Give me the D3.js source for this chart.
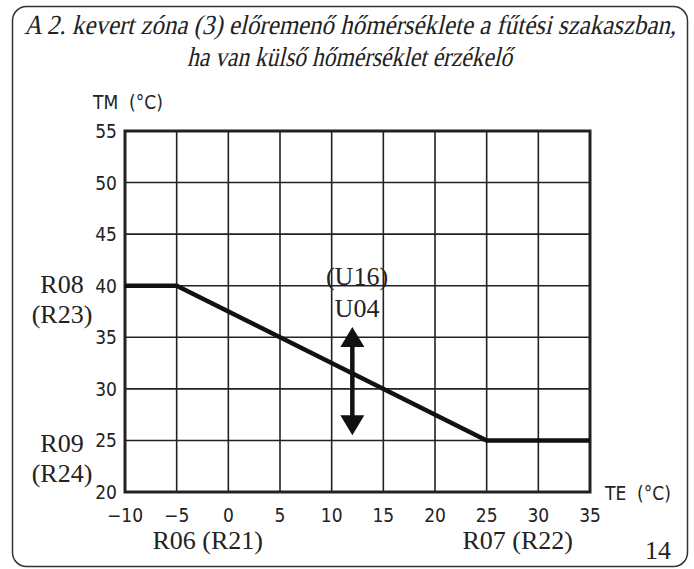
<!DOCTYPE html>
<html><head><meta charset="utf-8">
<script src="https://cdn.jsdelivr.net/npm/d3@7"></script>
<style>
html,body{margin:0;padding:0;background:#fff;}
svg{display:block;}
.tick{font-family:"DejaVu Sans Condensed","DejaVu Sans",sans-serif;font-size:19px;fill:#222;}
.ser{font-family:"Liberation Serif","DejaVu Serif",serif;font-size:26px;fill:#222;}
</style></head><body>
<script>
const titleLines = ["A 2. kevert zóna (3) előremenő hőmérséklete a fűtési szakaszban,", "ha van külső hőmérséklet érzékelő"];
const xTicks = [-10,-5,0,5,10,15,20,25,30,35];
const yTicks = [20,25,30,35,40,45,50,55];
const curveTE = [-10,-5,25,35];
const curveTM = [40,40,25,25];
const arrowTE = 12;
const arrowTM = [25.5,36];
const xAxisLabel = "TE (°C)";
const yAxisLabel = "TM (°C)";
const leftLabels = [{t:"R08",v:40,dy:7},{t:"(R23)",v:40,dy:37},{t:"R09",v:25,dy:12},{t:"(R24)",v:25,dy:42}];
const bottomLabels = [{t:"R06 (R21)",v:-2},{t:"R07 (R22)",v:28}];
const uLabels = ["(U16)","U04"];
const pageNo = "14";

const W=694,H=569;
const svg=d3.select("body").append("svg").attr("width",W).attr("height",H);
svg.append("rect").attr("x",12.5).attr("y",6.5).attr("width",675).attr("height",560).attr("rx",14)
  .attr("fill","none").attr("stroke","#333").attr("stroke-width",1.5);

const tl=[[24,676,34],[187,512,66]];
titleLines.forEach((s,i)=>{
  svg.append("text").attr("transform",`translate(${tl[i][0]},${tl[i][2]}) skewX(-13) scale(1,1.1)`)
    .attr("x",0).attr("y",0)
    .attr("font-family","'Liberation Serif', serif").attr("font-style","normal")
    .attr("font-size",25).attr("fill","#222")
    .attr("textLength",tl[i][1]-tl[i][0]).attr("lengthAdjust","spacingAndGlyphs").text(s);
});

const x=d3.scaleLinear().domain([-10,35]).range([125,590]);
const y=d3.scaleLinear().domain([20,55]).range([492,131]);

const g=svg.append("g");
g.selectAll(".vg").data(xTicks).join("line").attr("x1",d=>x(d)).attr("x2",d=>x(d))
  .attr("y1",y(20)).attr("y2",y(55)).attr("stroke","#222").attr("stroke-width",1.6);
g.selectAll(".hg").data(yTicks).join("line").attr("y1",d=>y(d)).attr("y2",d=>y(d))
  .attr("x1",x(-10)).attr("x2",x(35)).attr("stroke","#222").attr("stroke-width",1.6);
g.append("rect").attr("x",x(-10)).attr("y",y(55)).attr("width",x(35)-x(-10)).attr("height",y(20)-y(55))
  .attr("fill","none").attr("stroke","#222").attr("stroke-width",3);

svg.selectAll(".yt").data(yTicks).join("text").attr("class","tick").attr("text-anchor","end")
  .attr("x",117).attr("y",d=>y(d)+7).text(d=>d);
svg.selectAll(".xt").data(xTicks).join("text").attr("class","tick").attr("text-anchor","middle")
  .attr("x",d=>x(d)).attr("y",522).text(d=>d<0?"\u2212"+Math.abs(d):d);
svg.append("text").attr("class","tick").attr("x",93).attr("y",109).attr("xml:space","preserve").text(yAxisLabel.replace(" ","  "));
svg.append("text").attr("class","tick").attr("x",605).attr("y",500).attr("xml:space","preserve").text(xAxisLabel.replace(" ","  "));

const line=d3.line().x(d=>x(d[0])).y(d=>y(d[1]));
g.append("path").attr("d",line(curveTE.map((t,i)=>[t,curveTM[i]]))).attr("fill","none")
  .attr("stroke","#111").attr("stroke-width",4.5).attr("stroke-linejoin","miter");

const ax=x(arrowTE), yb=y(arrowTM[0]), yt=y(arrowTM[1]);
g.append("line").attr("x1",ax).attr("x2",ax).attr("y1",yt+10).attr("y2",yb-10).attr("stroke","#111").attr("stroke-width",4.5);
g.append("path").attr("d",`M${ax},${yt} L${ax-12},${yt+20} L${ax+12},${yt+20} Z`).attr("fill","#111");
g.append("path").attr("d",`M${ax},${yb} L${ax-12},${yb-20} L${ax+12},${yb-20} Z`).attr("fill","#111");

svg.selectAll(".ll").data(leftLabels).join("text").attr("class","ser").attr("text-anchor","middle")
  .attr("x",62).attr("y",d=>y(d.v)+d.dy).text(d=>d.t);
svg.selectAll(".bl").data(bottomLabels).join("text").attr("class","ser").attr("text-anchor","middle")
  .attr("x",d=>x(d.v)).attr("y",549).text(d=>d.t);
svg.append("text").attr("class","ser").attr("text-anchor","middle").attr("x",357).attr("y",285).text(uLabels[0]);
svg.append("text").attr("class","ser").attr("text-anchor","middle").attr("x",357).attr("y",317).text(uLabels[1]);
svg.append("text").attr("class","ser").attr("x",645).attr("y",559).text(pageNo);
</script>
</body></html>
